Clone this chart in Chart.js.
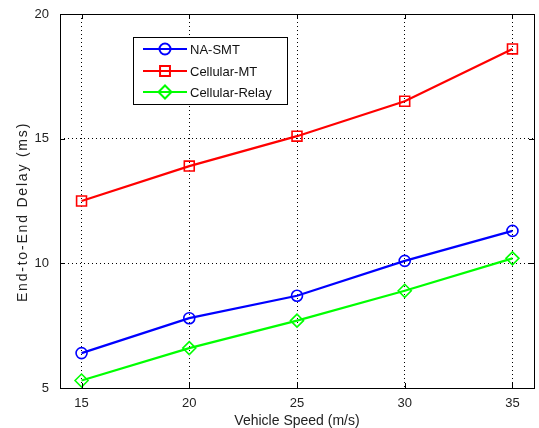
<!DOCTYPE html>
<html><head><meta charset="utf-8">
<script src="https://cdn.jsdelivr.net/npm/chart.js@4.4.0/dist/chart.umd.min.js"></script>
<style>html,body{margin:0;padding:0;background:#fff}#wrap{width:539px;height:428px}</style>
</head><body><div id="wrap"><canvas id="c" width="539" height="428"></canvas></div>
<script>
const speeds = [15, 20, 25, 30, 35];
const naSmt = [6.4, 7.8, 8.7, 10.1, 11.3];
const cellularMt = [12.5, 13.9, 15.1, 16.5, 18.6];
const cellularRelay = [5.3, 6.6, 7.7, 8.9, 10.2];
const seriesNames = ['NA-SMT', 'Cellular-MT', 'Cellular-Relay'];
const xTicks = [15, 20, 25, 30, 35];
const yTicks = [5, 10, 15, 20];
const xTitle = 'Vehicle Speed (m/s)';
const yTitle = 'End-to-End Delay (ms)';

const FONT = '"Liberation Sans", Arial, Helvetica, sans-serif';
const pts = arr => speeds.map((s, i) => ({x: s, y: arr[i]}));

function ds(label, data, color, style, radius) {
  return {label, data: pts(data), borderColor: color, backgroundColor: 'rgba(0,0,0,0)',
    borderWidth: 2.2, pointStyle: style, pointRadius: radius, pointBorderWidth: 1.6,
    pointBorderColor: color, pointBackgroundColor: 'rgba(0,0,0,0)', tension: 0, fill: false};
}

const framePlugin = {
  id: 'frame',
  afterDatasetsDraw(chart) {
    const {ctx, chartArea: a, scales: {x, y}} = chart;
    ctx.save();
    ctx.setLineDash([]);
    ctx.strokeStyle = '#000';
    ctx.lineWidth = 1;
    ctx.strokeRect(Math.round(a.left) + 0.5, Math.round(a.top) + 0.5, Math.round(a.right - a.left), Math.round(a.bottom - a.top));
    const tl = 5;
    ctx.beginPath();
    xTicks.forEach(v => {
      const px = Math.round(x.getPixelForValue(v)) + 0.5;
      ctx.moveTo(px, a.bottom); ctx.lineTo(px, a.bottom - tl);
      ctx.moveTo(px, a.top); ctx.lineTo(px, a.top + tl);
    });
    yTicks.forEach(v => {
      const py = Math.round(y.getPixelForValue(v)) + 0.5;
      ctx.moveTo(a.left, py); ctx.lineTo(a.left + tl, py);
      ctx.moveTo(a.right, py); ctx.lineTo(a.right - tl, py);
    });
    ctx.stroke();

    // legend
    const lx = 133.5, ly = 37.5, lw = 154, lh = 67;
    ctx.fillStyle = '#fff';
    ctx.fillRect(lx, ly, lw, lh);
    ctx.strokeRect(lx, ly, lw, lh);
    const rows = [49, 71, 92];
    chart.data.datasets.forEach((d, i) => {
      const yy = rows[i];
      ctx.strokeStyle = d.borderColor;
      ctx.lineWidth = 2;
      ctx.beginPath(); ctx.moveTo(143, yy); ctx.lineTo(187, yy); ctx.stroke();
      ctx.fillStyle = 'rgba(0,0,0,0)';
      Chart.helpers.drawPoint(ctx, {pointStyle: d.pointStyle, radius: d.pointRadius, borderWidth: 1}, 165, yy);
      ctx.fillStyle = '#111';
      ctx.font = '13px ' + FONT;
      ctx.textBaseline = 'middle';
      ctx.textAlign = 'left';
      ctx.fillText(d.label, 190, yy + 1);
    });

    // y title
    ctx.save();
    ctx.translate(23, 212);
    ctx.rotate(-Math.PI / 2);
    ctx.font = '14px ' + FONT;
    try { ctx.letterSpacing = '1.8px'; } catch (e) {}
    ctx.fillStyle = '#222';
    ctx.textAlign = 'center';
    ctx.textBaseline = 'middle';
    ctx.fillText(yTitle, 0, 0);
    ctx.restore();
    ctx.restore();
  }
};

new Chart(document.getElementById('c'), {
  type: 'line',
  data: {
    datasets: [
      ds(seriesNames[0], naSmt, '#0000ff', 'circle', 5.5),
      ds(seriesNames[1], cellularMt, '#ff0000', 'rect', 7),
      ds(seriesNames[2], cellularRelay, '#00ff00', 'rectRot', 6.5)
    ]
  },
  options: {
    responsive: false,
    animation: false,
    layout: {padding: {top: 14, right: 5, left: 0, bottom: 0}, autoPadding: false},
    plugins: {legend: {display: false}, tooltip: {enabled: false}},
    scales: {
      x: {
        type: 'linear', min: 14, max: 36,
        afterBuildTicks: s => { s.ticks = xTicks.map(v => ({value: v})); },
        afterFit: s => { s.height = 40; s.paddingLeft = 0; s.paddingRight = 0; },
        grid: {color: '#000', lineWidth: 1, drawTicks: false},
        border: {display: false, dash: [1, 3]},
        ticks: {color: '#222', font: {family: FONT, size: 13}, padding: 8, maxRotation: 0},
        title: {display: true, text: xTitle, color: '#222', font: {family: FONT, size: 14}, padding: {top: 0, bottom: -2}}
      },
      y: {
        type: 'linear', min: 5, max: 20,
        afterBuildTicks: s => { s.ticks = yTicks.map(v => ({value: v})); },
        afterFit: s => { s.width = 60; s.paddingTop = 0; s.paddingBottom = 0; },
        grid: {color: '#000', lineWidth: 1, drawTicks: false},
        border: {display: false, dash: [1, 3]},
        ticks: {color: '#222', font: {family: FONT, size: 13}, padding: 11},
        title: {display: false}
      }
    }
  },
  plugins: [framePlugin]
});
</script>
</body></html>
